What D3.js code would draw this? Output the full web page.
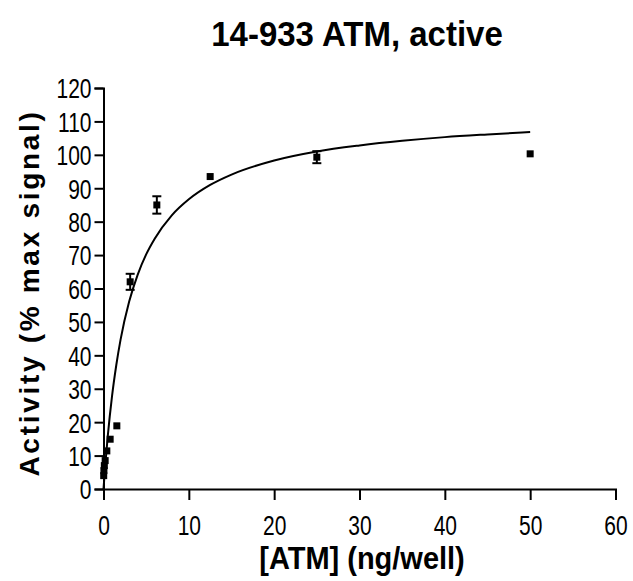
<!DOCTYPE html>
<html>
<head>
<meta charset="utf-8">
<script src="https://cdn.jsdelivr.net/npm/d3@7"></script>
<style>
  html, body { margin: 0; padding: 0; background: #fff; }
  svg { display: block; }
  text { font-family: "Liberation Sans", Arial, sans-serif; fill: #000; }
</style>
</head>
<body>
<svg id="chart" width="633" height="581"></svg>
<script>
// ---- data ----
const title = "14-933 ATM, active";
const xLabel = "[ATM] (ng/well)";
const yLabel = "Activity (% max signal)";
const conc = [50, 25, 12.5, 6.25, 3.125, 1.5625, 0.78, 0.39, 0.195, 0.098, 0.049, 0.024];
const activity = [100.3, 99.3, 93.5, 85.0, 62.0, 18.9, 14.9, 11.4, 8.5, 7.0, 5.5, 4.0];
const errors = [0, 1.8, 0, 2.6, 2.4, 0, 0, 0, 0, 0, 0, 0];
const fitX = [0, 0.25, 0.5, 1, 1.5, 2, 3, 4, 5, 6, 8, 10, 12.5, 15, 20, 25, 30, 35, 40, 45, 50];
const fitY = [0, 8.5, 15.8, 27.8, 37.1, 44.7, 56.0, 64.1, 70.2, 74.9, 81.9, 86.7, 91.0, 94.1, 98.3, 101.0, 102.8, 104.2, 105.3, 106.1, 106.8];
const xTicks = [0, 10, 20, 30, 40, 50, 60];
const yTicks = [0, 10, 20, 30, 40, 50, 60, 70, 80, 90, 100, 110, 120];

// ---- layout ----
const svg = d3.select("#chart");
const mLeft = 103.5, mRight = 615.5, mTop = 88, mBottom = 489;
const stretch = 1.3; // tall, narrow tick-label glyphs

const x = d3.scaleLinear().domain([0, 60]).range([mLeft, mRight]);
const y = d3.scaleLinear().domain([0, 120]).range([mBottom, mTop]);

// axes
const xAxis = svg.append("g")
  .attr("transform", `translate(0,${mBottom})`)
  .call(d3.axisBottom(x).tickValues(xTicks).tickSizeOuter(0).tickSize(11).tickPadding(4));
const yAxis = svg.append("g")
  .attr("transform", `translate(${mLeft},0)`)
  .call(d3.axisLeft(y).tickValues(yTicks).tickSizeOuter(0).tickSize(9).tickPadding(3));

[xAxis, yAxis].forEach(g => {
  g.selectAll("path.domain").attr("stroke", "#000").attr("stroke-width", 2);
  g.selectAll(".tick line").attr("stroke", "#000").attr("stroke-width", 2);
  g.selectAll(".tick text")
    .style("font-family", "'Liberation Sans', Arial, sans-serif")
    .style("font-size", "21px")
    .attr("fill", "#000")
    .attr("transform", `scale(1,${stretch})`);
});
yAxis.selectAll(".tick text").attr("dy", "0.36em");
xAxis.selectAll(".tick text").attr("y", 46 / stretch).attr("dy", 0);

// fitted curve
const line = d3.line()
  .x((d, i) => x(fitX[i]))
  .y(d => y(d))
  .curve(d3.curveMonotoneX);
svg.append("path")
  .datum(fitY)
  .attr("d", line)
  .attr("fill", "none")
  .attr("stroke", "#000")
  .attr("stroke-width", 2);

// error bars
const pts = conc.map((c, i) => ({x: c, y: activity[i], e: errors[i]}));
const capW = 4.5;
const eb = svg.append("g").attr("stroke", "#000").attr("stroke-width", 2);
pts.filter(d => d.e > 0).forEach(d => {
  eb.append("line").attr("x1", x(d.x)).attr("x2", x(d.x))
    .attr("y1", y(d.y - d.e)).attr("y2", y(d.y + d.e));
  eb.append("line").attr("x1", x(d.x) - capW).attr("x2", x(d.x) + capW)
    .attr("y1", y(d.y - d.e)).attr("y2", y(d.y - d.e));
  eb.append("line").attr("x1", x(d.x) - capW).attr("x2", x(d.x) + capW)
    .attr("y1", y(d.y + d.e)).attr("y2", y(d.y + d.e));
});

// markers
const ms = 7;
svg.append("g").selectAll("rect")
  .data(pts)
  .join("rect")
  .attr("x", d => x(d.x) - ms / 2)
  .attr("y", d => y(d.y) - ms / 2)
  .attr("width", ms)
  .attr("height", ms)
  .attr("fill", "#000");

// title & labels
svg.append("text")
  .attr("transform", "translate(357,46) scale(1,1.08)")
  .attr("text-anchor", "middle")
  .style("font-size", "33px").style("font-weight", "bold")
  .text(title);

svg.append("text")
  .attr("transform", "translate(362,569) scale(1,1.05)")
  .attr("text-anchor", "middle")
  .style("font-size", "29px").style("font-weight", "bold")
  .text(xLabel);

svg.append("text")
  .attr("transform", "translate(39,293) rotate(-90)")
  .attr("text-anchor", "middle")
  .style("font-size", "28px").style("font-weight", "bold")
  .style("letter-spacing", "2.7px")
  .text(yLabel);
</script>
</body>
</html>
